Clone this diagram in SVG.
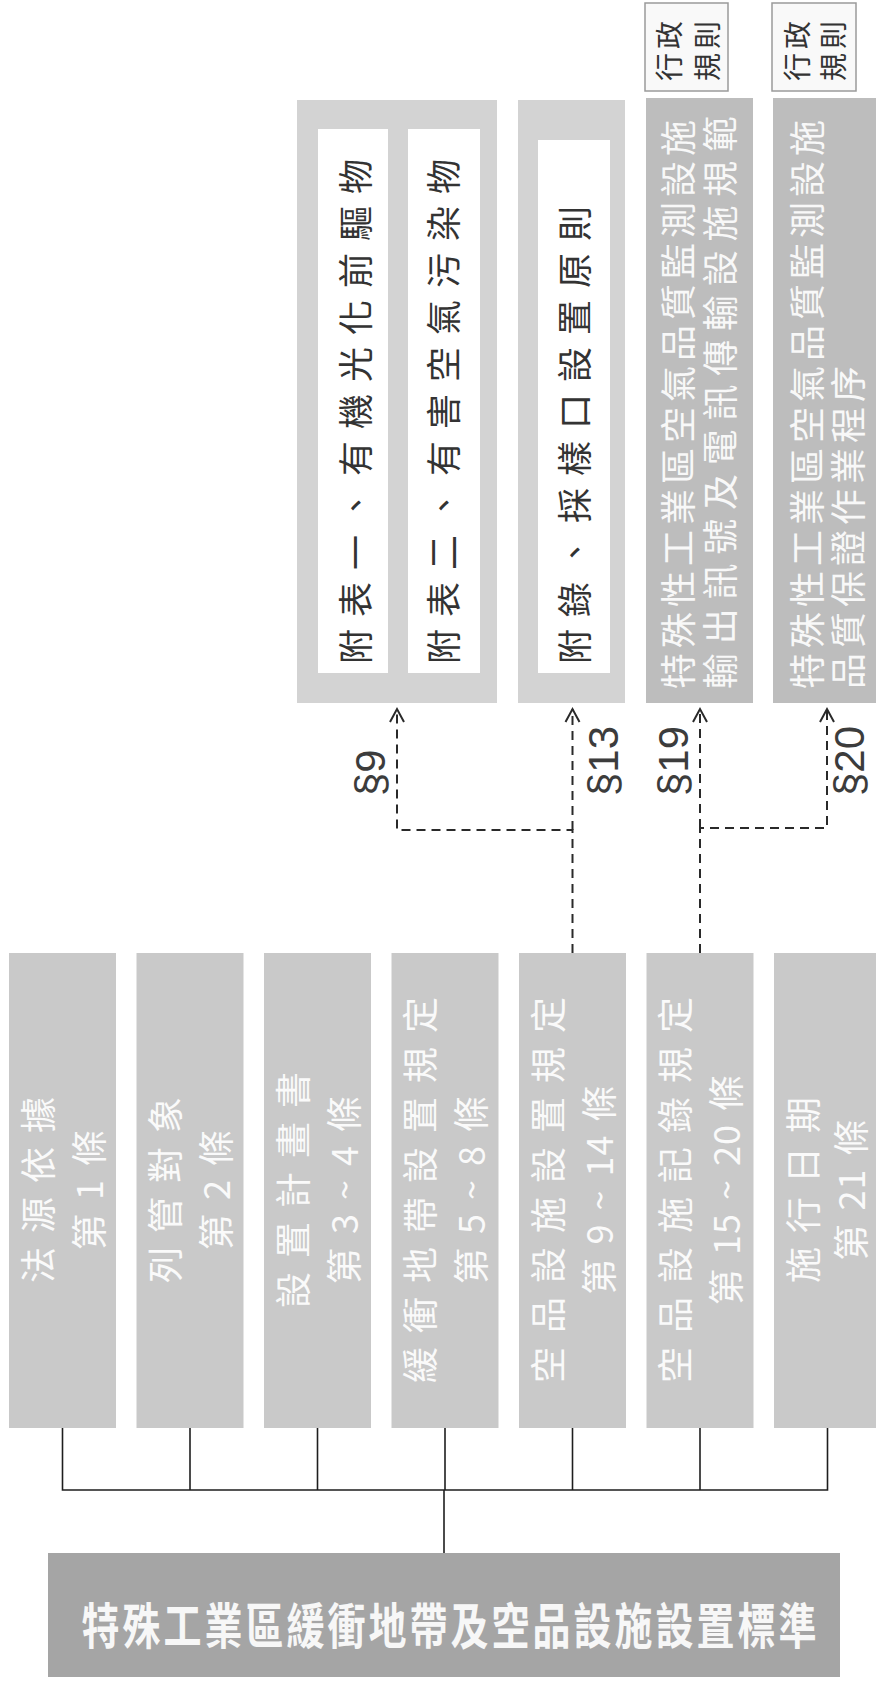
<svg xmlns="http://www.w3.org/2000/svg" width="876" height="1685" viewBox="0 0 876 1685">
<defs>
<style>
.bg{fill:#ffffff}
.l2{fill:#c9c9c9}
.main{fill:#a5a5a5}
.frame{fill:#d3d3d3}
.inner{fill:#ffffff}
.reg{fill:#bdbdbd}
.adm{fill:#f9f9f9;stroke:#9a9a9a;stroke-width:1.5}
.cjk{font-family:"Noto Sans CJK TC","Noto Sans CJK SC",sans-serif;dominant-baseline:central}
.t2{font-size:36px;fill:#fafafa;letter-spacing:14px;text-anchor:middle}
.tight{letter-spacing:1px}
.tm{font-size:38px;font-weight:bold;fill:#f7f7f7;letter-spacing:3px;text-anchor:middle}
.ti{font-size:35px;fill:#333333;letter-spacing:12px;text-anchor:start}
.tr{font-size:36px;fill:#f8f8f8;letter-spacing:5px;text-anchor:start}
.ta{font-size:28px;fill:#333333;letter-spacing:4px;text-anchor:middle}
.lab{font-family:"Liberation Sans",Arial,sans-serif;font-size:42px;fill:#3c3c3c;dominant-baseline:central;text-anchor:start}
.solid{fill:none;stroke:#1e1e1e;stroke-width:1.6}
.dash{fill:none;stroke:#2a2a2a;stroke-width:2;stroke-dasharray:9 6}
</style>
<marker id="arr" markerUnits="userSpaceOnUse" markerWidth="24" markerHeight="24" viewBox="-16 -12 24 24" refX="0" refY="0" orient="auto">
<path d="M-13,-7 L0,0 L-13,7" fill="none" stroke="#2a2a2a" stroke-width="2"/>
</marker>
</defs>
<rect class="bg" x="0" y="0" width="876" height="1685"/>

<g id="connectors">
<path class="solid" d="M62.5,1428 V1490 H827.5 V1428"/>
<path class="solid" d="M190,1428 V1490"/>
<path class="solid" d="M317.5,1428 V1490"/>
<path class="solid" d="M445,1428 V1490"/>
<path class="solid" d="M572.5,1428 V1490"/>
<path class="solid" d="M700,1428 V1490"/>
<path class="solid" d="M444,1490 V1553"/>
<path class="dash" d="M572.5,953 V830 H397 V709" marker-end="url(#arr)"/>
<path class="dash" d="M572.5,830 V709" marker-end="url(#arr)"/>
<path class="dash" d="M700,953 V828 H827 V709" marker-end="url(#arr)"/>
<path class="dash" d="M700,828 V709" marker-end="url(#arr)"/>
<text class="lab" transform="translate(370,796) rotate(-90)">§9</text>
<text class="lab" transform="translate(603,796) rotate(-90)">§13</text>
<text class="lab" transform="translate(673,796) rotate(-90)">§19</text>
<text class="lab" transform="translate(849,796) rotate(-90)">§20</text>
</g>

<g id="main">
<rect class="main" x="48" y="1553" width="792" height="124"/>
<text class="cjk tm" transform="translate(450.5,1623) scale(1,1.3)">特殊工業區緩衝地帶及空品設施設置標準</text>
</g>

<g id="n1">
<rect class="l2" x="9" y="953" width="107" height="475"/>
<text class="cjk t2" transform="translate(35.5,1183) rotate(-90)">法源依據</text>
<text class="cjk t2" transform="translate(86.5,1183) rotate(-90)">第1條</text>
</g>
<g id="n2">
<rect class="l2" x="136.5" y="953" width="107" height="475"/>
<text class="cjk t2" transform="translate(163,1183) rotate(-90)">列管對象</text>
<text class="cjk t2" transform="translate(214,1183) rotate(-90)">第2條</text>
</g>
<g id="n3">
<rect class="l2" x="264" y="953" width="107" height="475"/>
<text class="cjk t2" transform="translate(290.5,1183) rotate(-90)">設置計畫書</text>
<text class="cjk t2" transform="translate(341.5,1183) rotate(-90)">第3~4條</text>
</g>
<g id="n4">
<rect class="l2" x="391.5" y="953" width="107" height="475"/>
<text class="cjk t2" transform="translate(418,1183) rotate(-90)">緩衝地帶設置規定</text>
<text class="cjk t2" transform="translate(469,1183) rotate(-90)">第5~8條</text>
</g>
<g id="n5">
<rect class="l2" x="519" y="953" width="107" height="475"/>
<text class="cjk t2" transform="translate(545.5,1183) rotate(-90)">空品設施設置規定</text>
<text class="cjk t2" transform="translate(596.5,1183) rotate(-90)">第9~<tspan class="tight">1</tspan>4條</text>
</g>
<g id="n6">
<rect class="l2" x="646.5" y="953" width="107" height="475"/>
<text class="cjk t2" transform="translate(673,1183) rotate(-90)">空品設施記錄規定</text>
<text class="cjk t2" transform="translate(724,1183) rotate(-90)">第<tspan class="tight">1</tspan>5~<tspan class="tight">2</tspan>0條</text>
</g>
<g id="n7">
<rect class="l2" x="774" y="953" width="107" height="475"/>
<text class="cjk t2" transform="translate(800.5,1183) rotate(-90)">施行日期</text>
<text class="cjk t2" transform="translate(849,1183) rotate(-90)">第<tspan class="tight">2</tspan>1條</text>
</g>

<g id="annex9">
<rect class="frame" x="297" y="100" width="200" height="603"/>
<rect class="inner" x="318" y="129" width="70" height="544"/>
<rect class="inner" x="408" y="129" width="72" height="544"/>
<text class="cjk ti" transform="translate(353,664) rotate(-90)">附表一、有機光化前驅物</text>
<text class="cjk ti" transform="translate(441,664) rotate(-90)">附表二、有害空氣污染物</text>
</g>

<g id="annex13">
<rect class="frame" x="518" y="100" width="107" height="603"/>
<rect class="inner" x="538" y="140" width="72" height="533"/>
<text class="cjk ti" transform="translate(572.5,664) rotate(-90)">附錄、採樣口設置原則</text>
</g>

<g id="reg19">
<rect class="reg" x="646" y="98" width="107" height="605"/>
<text class="cjk tr" transform="translate(676,689) rotate(-90)">特殊性工業區空氣品質監測設施</text>
<text class="cjk tr" transform="translate(718,689) rotate(-90)" style="letter-spacing:8.75px">輸出訊號及電訊傳輸設施規範</text>
</g>
<g id="adm19">
<rect class="adm" x="645" y="3" width="83" height="88"/>
<text class="cjk ta" transform="translate(668,49) rotate(-90)">行政</text>
<text class="cjk ta" transform="translate(706,49) rotate(-90)">規則</text>
</g>

<g id="reg20">
<rect class="reg" x="773" y="98" width="108" height="605"/>
<text class="cjk tr" transform="translate(805,689) rotate(-90)">特殊性工業區空氣品質監測設施</text>
<text class="cjk tr" transform="translate(846,689) rotate(-90)">品質保證作業程序</text>
</g>
<g id="adm20">
<rect class="adm" x="772" y="3" width="84" height="88"/>
<text class="cjk ta" transform="translate(796,49) rotate(-90)">行政</text>
<text class="cjk ta" transform="translate(832,49) rotate(-90)">規則</text>
</g>
</svg>
